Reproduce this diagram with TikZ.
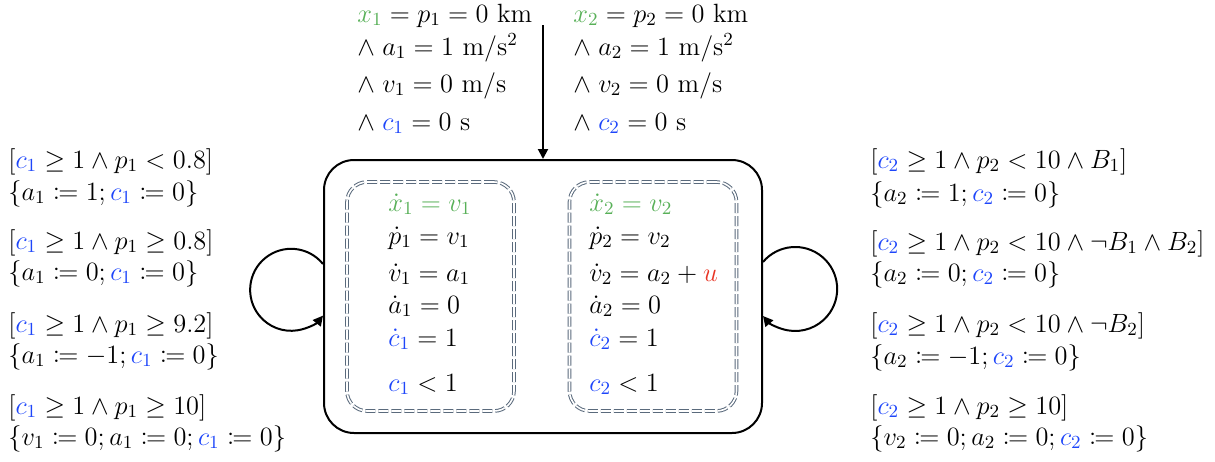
\RequirePackage{fix-cm}
\documentclass[tikz,border=0pt]{standalone}
\usepackage{amsmath,mathtools}
\usetikzlibrary{arrows.meta}
\definecolor{grn}{RGB}{88,176,88}
\definecolor{blu}{RGB}{30,70,250}
\definecolor{rd}{RGB}{232,52,36}
\definecolor{dgray}{RGB}{90,106,124}
\newcommand{\cG}[1]{\textcolor{grn}{#1}}
\newcommand{\cB}[1]{\textcolor{blu}{#1}}
\newcommand{\cR}[1]{\textcolor{rd}{#1}}
\tikzset{
  lbl/.style={anchor=base west, inner sep=0pt, font=\fontsize{13.2}{16}\selectfont,
    execute at begin node=$, execute at end node=$},
  flow/.style={anchor=base west, inner sep=0pt, align=left,
    font=\fontsize{13.2}{16}\selectfont},
  outerbox/.style={draw=black, line width=1pt, rounded corners=15pt,
    minimum width=219pt, minimum height=136.5pt, inner sep=0pt},
  innerbox/.style={draw=dgray, double=white, line width=0.5pt, double distance=0.8pt,
    dash pattern=on 5pt off 1.5pt, rounded corners=10pt,
    minimum width=83.5pt, minimum height=114.5pt, inner sep=0pt},
  arr/.style={line width=1pt, -{Triangle[length=5pt,width=5pt]}},
}
\begin{document}
\begin{tikzpicture}[x=0.5pt,y=-0.5pt]
\useasboundingbox (0,0) rectangle (1215,461);
% main state
\node[outerbox] (outer) at (543,296.5) {};
\node[innerbox] (inL) at (430.5,296.5) {};
\node[innerbox] (inR) at (653,296.5) {};
% initial arrow
\coordinate (init) at (543,25);
\draw[arr] (init) -- (outer.north);
% initial conditions
\node[lbl] (t1a) at (357,22) {\cG{x_1} = p_1 = 0\ \mathrm{km}};
\node[lbl] (t1b) at (357,55) {\wedge\; a_1 = 1\ \mathrm{m/s^2}};
\node[lbl] (t1c) at (357,92) {\wedge\; v_1 = 0\ \mathrm{m/s}};
\node[lbl] (t1d) at (357,130) {\wedge\; \cB{c_1} = 0\ \mathrm{s}};
\node[lbl] (t2a) at (573,22) {\cG{x_2} = p_2 = 0\ \mathrm{km}};
\node[lbl] (t2b) at (573,55) {\wedge\; a_2 = 1\ \mathrm{m/s^2}};
\node[lbl] (t2c) at (573,92) {\wedge\; v_2 = 0\ \mathrm{m/s}};
\node[lbl] (t2d) at (573,130) {\wedge\; \cB{c_2} = 0\ \mathrm{s}};
% flows left (base anchor = last line)
\node[flow] (f1) at (388,391) {%
  $\cG{\dot{x}_1 = v_1}$\\[0.5pt]
  $\dot{p}_1 = v_1$\\[2.5pt]
  $\dot{v}_1 = a_1$\\[0pt]
  $\dot{a}_1 = 0$\\[0.5pt]
  $\cB{\dot{c}_1} = 1$\\[6.5pt]
  $\cB{c_1} < 1$};
% flows right
\node[flow] (f2) at (589,391) {%
  $\cG{\dot{x}_2 = v_2}$\\[0.5pt]
  $\dot{p}_2 = v_2$\\[2.5pt]
  $\dot{v}_2 = a_2 + \cR{u}$\\[0pt]
  $\dot{a}_2 = 0$\\[0.5pt]
  $\cB{\dot{c}_2} = 1$\\[6.5pt]
  $\cB{c_2} < 1$};
% loops
\coordinate (l1) at (323,264);
\draw[arr] (l1) arc[start angle=-39, end angle=-321, radius=41];
\coordinate (r1) at (763,262);
\draw[arr] (r1) arc[start angle=220, end angle=500, radius=42];
% left guards
\node[lbl] (g1a) at (8,168) {[\cB{c_1} \geq 1 \wedge p_1 < 0.8]};
\node[lbl] (g1b) at (8,200) {\{a_1 \coloneqq 1; \cB{c_1} \coloneqq 0\}};
\node[lbl] (g2a) at (8,249) {[\cB{c_1} \geq 1 \wedge p_1 \geq 0.8]};
\node[lbl] (g2b) at (8,280) {\{a_1 \coloneqq 0; \cB{c_1} \coloneqq 0\}};
\node[lbl] (g3a) at (8,332) {[\cB{c_1} \geq 1 \wedge p_1 \geq 9.2]};
\node[lbl] (g3b) at (8,363) {\{a_1 \coloneqq -1; \cB{c_1} \coloneqq 0\}};
\node[lbl] (g4a) at (8,414) {[\cB{c_1} \geq 1 \wedge p_1 \geq 10]};
\node[lbl] (g4b) at (8,445) {\{v_1 \coloneqq 0; a_1 \coloneqq 0; \cB{c_1} \coloneqq 0\}};
% right guards
\node[lbl] (h1a) at (870,168) {[\cB{c_2} \geq 1 \wedge p_2 < 10 \wedge B_1]};
\node[lbl] (h1b) at (870,201) {\{a_2 \coloneqq 1; \cB{c_2} \coloneqq 0\}};
\node[lbl] (h2a) at (870,250) {[\cB{c_2} \geq 1 \wedge p_2 < 10 \wedge \neg B_1 \wedge B_2]};
\node[lbl] (h2b) at (870,281) {\{a_2 \coloneqq 0; \cB{c_2} \coloneqq 0\}};
\node[lbl] (h3a) at (870,332) {[\cB{c_2} \geq 1 \wedge p_2 < 10 \wedge \neg B_2]};
\node[lbl] (h3b) at (870,364) {\{a_2 \coloneqq -1; \cB{c_2} \coloneqq 0\}};
\node[lbl] (h4a) at (870,414) {[\cB{c_2} \geq 1 \wedge p_2 \geq 10]};
\node[lbl] (h4b) at (870,445) {\{v_2 \coloneqq 0; a_2 \coloneqq 0; \cB{c_2} \coloneqq 0\}};
\end{tikzpicture}
\end{document}
